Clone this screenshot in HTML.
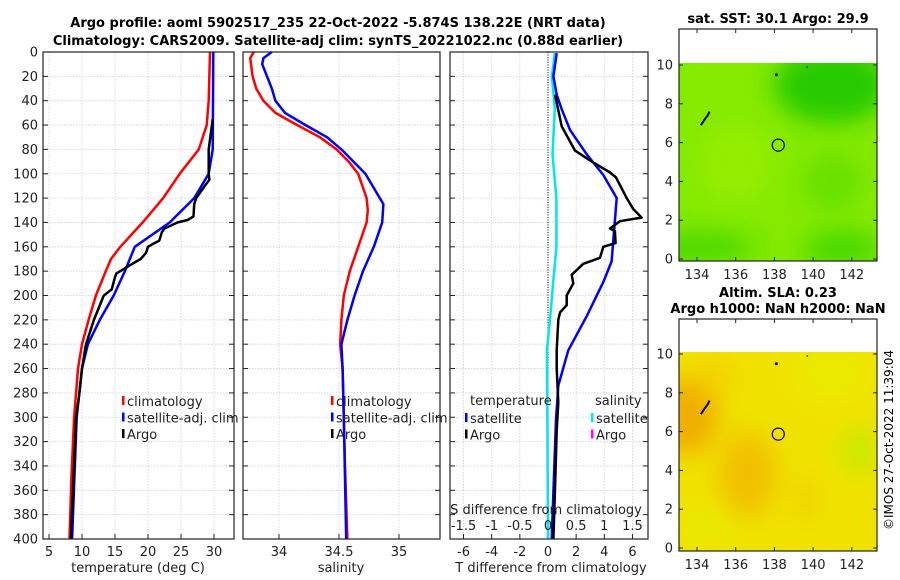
<!DOCTYPE html>
<html><head><meta charset="utf-8"><style>
body{margin:0;background:#fff}
svg{display:block;font-family:"DejaVu Sans","Liberation Sans",sans-serif}
</style></head><body>
<svg id="c" width="900" height="580" viewBox="0 0 900 580" xmlns="http://www.w3.org/2000/svg">
<defs>
<filter id="bl" x="-50%" y="-50%" width="200%" height="200%"><feGaussianBlur stdDeviation="12"/></filter>
<clipPath id="m1c"><rect x="679" y="63" width="198" height="198"/></clipPath>
<clipPath id="m2c"><rect x="679" y="352" width="198" height="199"/></clipPath>
</defs>
<g font-weight="bold" font-size="13" text-anchor="middle" fill="#000">
<text x="338" y="27">Argo profile: aoml 5902517_235 22-Oct-2022 -5.874S 138.22E (NRT data)</text>
<text x="338" y="45">Climatology: CARS2009. Satellite-adj clim: synTS_20221022.nc (0.88d earlier)</text>
</g>
<g id="p1"></g>
<g id="p2"></g>
<g id="p3"></g>
<g id="m1"></g>
<g id="m2"></g>
<text x="893" y="440" font-size="12" text-anchor="middle" transform="rotate(-90 893 440)">©IMOS 27-Oct-2022 11:39:04</text>
</svg>
<script>
// ---- data ----
const depthTicks=[0,20,40,60,80,100,120,140,160,180,200,220,240,260,280,300,320,340,360,380,400];
const tTicks=[5,10,15,20,25,30];
const sTicks=[34,34.5,35];
const dTTicks=[-6,-4,-2,0,2,4,6];
const dSTicks=[-1.5,-1,-0.5,0,0.5,1,1.5];
const climTDepth=[0,40,60,80,100,120,140,160,170,180,200,220,240,260,280,300,350,400];
const climT=[29.4,29.2,28.9,27.7,24.8,22.3,19.2,15.8,14.4,13.6,12.1,11.0,10.0,9.4,9.1,8.8,8.4,8.1];
const satTDepth=[0,80,100,120,140,160,180,200,220,240,260,300,400];
const satT=[29.9,29.8,29.2,27.0,23.3,18.0,16.5,14.8,12.7,10.9,10.0,9.2,8.5];
const argoTDepth=[55,80,100,105,110,120,125,135,138,140,145,148,155,158,160,165,170,175,182,185,195,200,220,240,260,280,300,340,400];
const argoT=[29.8,29.2,29.2,29.3,28.6,27.3,27.0,26.9,26.0,24.5,22.5,22.1,21.7,20.6,20.0,19.7,18.9,17.3,15.2,15.0,14.5,13.3,11.8,10.6,10.0,9.6,9.1,8.8,8.3];
const climSDepth=[0,5,20,30,40,50,60,70,80,90,100,120,130,140,160,180,200,220,240,260,300,340,400];
const climS=[33.79,33.76,33.78,33.81,33.87,33.97,34.15,34.34,34.48,34.58,34.66,34.73,34.74,34.73,34.66,34.59,34.54,34.52,34.51,34.53,34.54,34.55,34.57];
const satSDepth=[0,5,10,20,30,40,50,60,70,80,100,120,125,140,160,180,200,220,240,260,300,400];
const satS=[33.94,33.87,33.86,33.9,33.94,33.97,34.05,34.22,34.4,34.52,34.72,34.84,34.87,34.86,34.79,34.7,34.63,34.57,34.52,34.53,34.54,34.56];
const argoDTDepth=[35,61,81,89,99,103,120,129,136,139,145,147,157,160,169,174,183,190,200,208,214,220,245,260,288,311,359,400];
const argoDT=[0.5,0.97,1.92,2.98,4.4,4.83,5.59,6.06,6.65,5.11,4.4,4.75,4.8,3.93,3.69,2.51,1.68,1.8,1.33,1.33,0.85,0.73,0.62,0.62,0.73,0.62,0.5,0.38];
const satDTDepth=[1,20,35,47,64,84,101,120,172,189,217,245,274,302,400];
const satDT=[0.62,0.38,0.62,0.97,1.56,2.75,3.93,4.88,4.52,3.93,2.75,1.44,0.73,0.57,0.26];
const satDSDepth=[1,20,47,84,120,160,190,217,245,302,400];
const satDS=[0.12,0.07,0.12,0.08,0.15,0.15,0.09,0.04,-0.02,-0.01,0.0];
const latTicks=[0,2,4,6,8,10];
const lonTicks=[134,136,138,140,142];
const argoLon=[138.2], argoLat=[5.87];

const NS='http://www.w3.org/2000/svg';
function mk(p,t,a,txt){const e=document.createElementNS(NS,t);for(const k in a)e.setAttribute(k,a[k]);if(txt!==undefined)e.textContent=txt;p.appendChild(e);return e;}
const Y0=52,Y1=539;
const yD=d=>Y0+(d/400)*(Y1-Y0);

function panel(g,x0,x1,xs,xt,gridX,showY){
  mk(g,'rect',{x:x0,y:Y0,width:x1-x0,height:Y1-Y0,fill:'#fff'});
  depthTicks.forEach(d=>{
    const l=mk(g,'line',{x1:x0,x2:x1,y1:yD(d),y2:yD(d),stroke:'#c8cde8','stroke-dasharray':'1.5 1.5','stroke-width':0.8});
    
    mk(g,'line',{x1:x0,x2:x0+5,y1:yD(d),y2:yD(d),stroke:'#222'});
    mk(g,'line',{x1:x1-5,x2:x1,y1:yD(d),y2:yD(d),stroke:'#222'});
    if(showY){const t=mk(g,'text',{x:x0-5,y:yD(d)+4.5,'font-size':13,'text-anchor':'end',fill:'#222'},String(d));
      }
  });
  gridX.forEach(v=>{
    mk(g,'line',{x1:xs(v),x2:xs(v),y1:Y0,y2:Y1,stroke:'#c8cde8','stroke-dasharray':'1.5 1.5','stroke-width':0.8});
    mk(g,'line',{x1:xs(v),x2:xs(v),y1:Y1,y2:Y1-5,stroke:'#222'});
  });
}
function line(g,xs,depths,vals,color,w,name){
  const p=depths.map((d,i)=>xs(vals[i]).toFixed(1)+','+yD(d).toFixed(1)).join(' ');
  const e=mk(g,'polyline',{points:p,fill:'none',stroke:color,'stroke-width':w,'stroke-linejoin':'round'});
  
  
}
function frame(g,x0,x1){mk(g,'rect',{x:x0,y:Y0,width:x1-x0,height:Y1-Y0,fill:'none',stroke:'#222','stroke-width':1.2});}
function legend(g,x,items){
  items.forEach((it,i)=>{
    const y=401+i*16.5;
    mk(g,'rect',{x:x,y:y-5,width:2.5,height:9,fill:it[1]});
    const t=mk(g,'text',{x:x+5,y:y+5,'font-size':13,fill:'#222'},it[0]);
    
  });
}

// panel 1
const p1=document.getElementById('p1');
const xT=t=>49+(t-5)*6.6;
panel(p1,43,234,xT,tTicks,tTicks,true);
line(p1,xT,climTDepth,climT,'#ff0000',2.5,'climatology-temperature-line');
line(p1,xT,satTDepth,satT,'#0000ff',2.5,'satellite-temperature-line');
line(p1,xT,argoTDepth,argoT,'#000',2.5,'argo-temperature-line');
frame(p1,43,234);
tTicks.forEach(v=>{const t=mk(p1,'text',{x:xT(v),y:556,'font-size':13,'text-anchor':'middle',fill:'#222'},String(v));});
mk(p1,'text',{x:138,y:572,'font-size':13,'text-anchor':'middle',fill:'#222',},'temperature (deg C)');
legend(p1,122,[['climatology','#ff0000'],['satellite-adj. clim','#0000ff'],['Argo','#000']]);

// panel 2
const p2=document.getElementById('p2');
const xS=s=>279+(s-34)*120;
panel(p2,243,440,xS,sTicks,sTicks,false);
line(p2,xS,climSDepth,climS,'#ff0000',2.5,'climatology-salinity-line');
line(p2,xS,satSDepth,satS,'#0000ff',2.5,'satellite-salinity-line');
frame(p2,243,440);
sTicks.forEach(v=>{const t=mk(p2,'text',{x:xS(v),y:556,'font-size':13,'text-anchor':'middle',fill:'#222'},String(v));});
mk(p2,'text',{x:341,y:572,'font-size':13,'text-anchor':'middle',fill:'#222',},'salinity');
legend(p2,331,[['climatology','#ff0000'],['satellite-adj. clim','#0000ff'],['Argo','#000']]);

// panel 3
const p3=document.getElementById('p3');
const xDT=v=>548+v*14.08;
const xDS=v=>548+v*56.3;
panel(p3,450,648,xDT,dTTicks,dTTicks,false);
mk(p3,'line',{x1:xDT(0),x2:xDT(0),y1:Y0,y2:Y1,stroke:'#333','stroke-dasharray':'1 1.5','stroke-width':1.2});
line(p3,xDS,satDSDepth,satDS,'#00e5ee',2.5,'satellite-salinity-difference-line');
line(p3,xDT,satDTDepth,satDT,'#0000ff',2.5,'satellite-temperature-difference-line');
line(p3,xDT,argoDTDepth,argoDT,'#000',2.5,'argo-temperature-difference-line');
frame(p3,450,648);
dTTicks.forEach(v=>{const t=mk(p3,'text',{x:xDT(v),y:556,'font-size':13,'text-anchor':'middle',fill:'#222'},String(v));});
dSTicks.forEach(v=>{const t=mk(p3,'text',{x:xDS(v),y:530,'font-size':13,'text-anchor':'middle',fill:'#222'},String(v));});
mk(p3,'text',{x:546,y:514,'font-size':13,'text-anchor':'middle',fill:'#222',},'S difference from climatology');
mk(p3,'text',{x:551,y:572,'font-size':13,'text-anchor':'middle',fill:'#222',},'T difference from climatology');
mk(p3,'text',{x:470,y:405,'font-size':13,fill:'#222',},'temperature');
mk(p3,'text',{x:595,y:405,'font-size':13,fill:'#222',},'salinity');
[[465,'satellite','#0000ff',0],[465,'Argo','#000',1],[591,'satellite','#00e5ee',0],[591,'Argo','#ff00ff',1]].forEach(it=>{
  const y=418+it[3]*16.5;
  mk(p3,'rect',{x:it[0],y:y-5,width:2.5,height:9,fill:it[2]});
  const t=mk(p3,'text',{x:it[0]+5,y:y+5,'font-size':13,fill:'#222'},it[1]);
  
});

// maps
function map(id,top,bot,lat0,dataTop,bg,blobs,titles,clip){
  const g=document.getElementById(id);
  const x0=679,x1=877;
  const lx=v=>697+(v-134)*19.35;
  const ly=v=>lat0-v*19.4;
  titles.forEach(t=>mk(g,'text',{x:778,y:t[1],'font-size':13,'font-weight':'bold','text-anchor':'middle',},t[0]));
  mk(g,'rect',{x:x0,y:top,width:x1-x0,height:bot-top,fill:'#fff'});
  const cg=mk(g,'g',{'clip-path':'url(#'+clip+')'});
  mk(cg,'rect',{x:x0,y:dataTop,width:x1-x0,height:bot-dataTop,fill:bg});
  const bg2=mk(cg,'g',{filter:'url(#bl)'});
  blobs.forEach(b=>mk(bg2,'ellipse',{cx:lx(b[0]),cy:ly(b[1]),rx:b[2]*19.4,ry:b[3]*19.4,fill:b[4],opacity:b[5]}));
  mk(g,'polyline',{points:[[134.2,6.9],[134.4,7.2],[134.55,7.4],[134.65,7.6]].map(p=>lx(p[0])+','+ly(p[1])).join(' '),fill:'none',stroke:'#000','stroke-width':2,});
  mk(g,'circle',{cx:lx(138.1),cy:ly(9.5),r:1.5,fill:'#000'});
  mk(g,'circle',{cx:lx(139.7),cy:ly(9.9),r:0.8,fill:'#000'});
  const c=mk(g,'circle',{cx:lx(argoLon[0]),cy:ly(argoLat[0]),r:6,fill:'none',stroke:'#000','stroke-width':1.2});
  
  mk(g,'rect',{x:x0,y:top,width:x1-x0,height:bot-top,fill:'none',stroke:'#222','stroke-width':1.2});
  latTicks.forEach(v=>{mk(g,'line',{x1:x0,x2:x0+4,y1:ly(v),y2:ly(v),stroke:'#222'});mk(g,'line',{x1:x1-4,x2:x1,y1:ly(v),y2:ly(v),stroke:'#222'});
    const t=mk(g,'text',{x:x0-6,y:ly(v)+4.5,'font-size':13,'text-anchor':'end',fill:'#222'},String(v));});
  lonTicks.forEach(v=>{mk(g,'line',{x1:lx(v),x2:lx(v),y1:bot,y2:bot-4,stroke:'#222'});mk(g,'line',{x1:lx(v),x2:lx(v),y1:top,y2:top+4,stroke:'#222'});
    const t=mk(g,'text',{x:lx(v),y:bot+18,'font-size':13,'text-anchor':'middle',fill:'#222'},String(v));});
}
map('m1',29,261,259,63,'#84ea00',[[141,9,3,2,'#1ec800',0.9],[134,0.6,3,0.8,'#33d000',0.7],[141.5,0.5,2,1,'#33d000',0.7],[136,5,2,2,'#a0f000',0.6],[141,4,1.5,1.5,'#50d800',0.5]],[['sat. SST: 30.1 Argo: 29.9',23]],'m1c');
map('m2',319,551,548,352,'#f0e200',[[133.5,6.8,1.6,2,'#f0a800',0.9],[136.6,3.8,1.5,2.2,'#f2b800',0.8],[135,8.8,1.2,1,'#f5cc00',0.6],[139.6,2.5,0.6,1.2,'#f2c800',0.6],[142.4,5,1,1.2,'#b8ec00',0.7],[141,9,2,1.5,'#e8f000',0.6],[134.5,1,1.5,1,'#e4f000',0.5]],[['Altim. SLA: 0.23',297],['Argo h1000: NaN h2000: NaN',313]],'m2c');
</script>
</body></html>
